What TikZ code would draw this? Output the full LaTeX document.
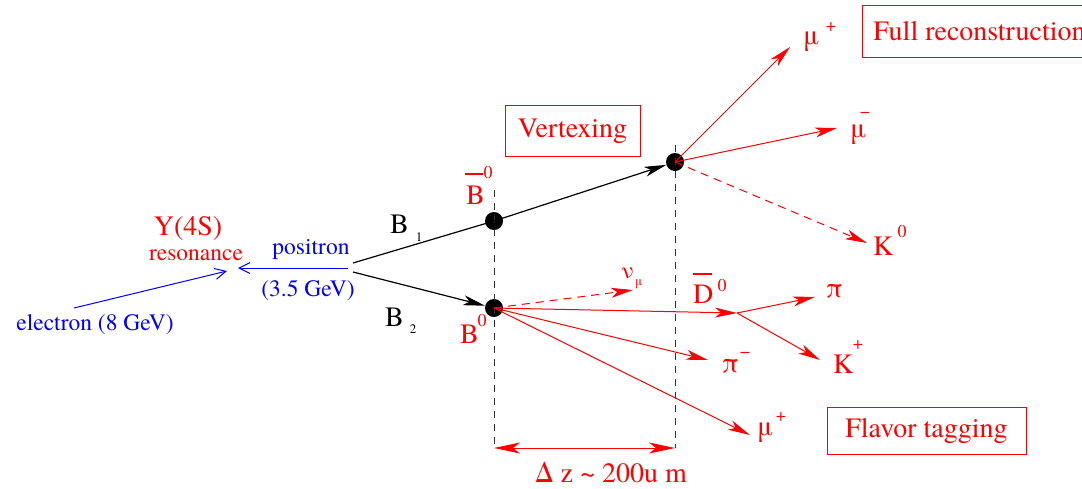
\documentclass[tikz,border=0pt]{standalone}
\usepackage{fontspec}
\setmainfont{texgyretermes}[Extension=.otf, UprightFont=*-regular, BoldFont=*-bold, ItalicFont=*-italic, BoldItalicFont=*-bolditalic]
\newfontfamily\tms{texgyretermes}[Extension=.otf, UprightFont=*-regular, BoldFont=*-bold, ItalicFont=*-italic, BoldItalicFont=*-bolditalic]
\usetikzlibrary{arrows.meta}
\begin{document}
\begin{tikzpicture}[x=1pt,y=-1pt,
  big/.style={inner sep=0pt, anchor=base west, font=\tms\fontsize{28}{30}\selectfont},
  mid/.style={inner sep=0pt, anchor=center, font=\tms\fontsize{23.5}{26}\selectfont},
  supr/.style={inner sep=0pt, anchor=center, font=\tms\fontsize{18}{20}\selectfont},
  subs/.style={inner sep=0pt, anchor=center, font=\tms\fontsize{13}{14}\selectfont},
  dot/.style={circle, fill=black, inner sep=0pt, minimum size=18pt},
  redbox/.style={draw=red, line width=0.8pt, text=red, inner sep=0pt, font=\tms\fontsize{28}{30}\selectfont},
  tipr/.style={-{Stealth[length=22pt,width=10pt,inset=6pt]}},
  tipb/.style={-{Stealth[length=22pt,width=10pt,inset=6pt]}},
  openarr/.style={-{Straight Barb[length=11pt,width=11pt]}},
  redl/.style={red, line width=1pt},
  blackl/.style={black, line width=1.2pt},
  bluel/.style={blue, line width=1pt},
  guide/.style={black!80, line width=1pt, dash pattern=on 7pt off 6pt},
]
\useasboundingbox (0,0) rectangle (1082,488);

% boxes
\node[redbox, minimum width=135pt, minimum height=51pt] (vtx) at (572.5,131) {Vertexing};
\node[redbox, anchor=west, minimum height=52pt, inner xsep=11pt] (full) at (862,31) {Full reconstruction};
\node[redbox, minimum width=199pt, minimum height=47pt] (flav) at (926.5,430.5) {Flavor tagging};

% vertices
\node[dot] (v1) at (494,221) {};
\node[dot] (v2) at (675,162) {};
\node[dot] (v3) at (494,308) {};

% guides
\coordinate (g1t) at (494,190);
\coordinate (g1b) at (494,448);
\coordinate (g2t) at (675,145);
\coordinate (g2b) at (675,448);
\draw[guide] (g1t) -- (g1b);
\draw[guide] (g2t) -- (g2b);

% delta z arrow
\draw[redl, {Stealth[length=26pt,width=11pt,inset=7pt]}-{Stealth[length=26pt,width=11pt,inset=7pt]}] (g1b) -- (g2b);
\node[big, text=red] (dz) at (535,482) {Δ z \textasciitilde{} 200u m};

% B lines
\coordinate (o1) at (353,263);
\coordinate (o2) at (353,272);
\draw[blackl, tipb] (o1) -- (v1.center) -- (v2);
\draw[blackl, tipb] (o2) -- (v3);

% beams
\coordinate (pos0) at (348,268);
\coordinate (pos1) at (238,268);
\coordinate (ele0) at (74,308);
\coordinate (ele1) at (227,271);
\draw[bluel, openarr] (pos0) -- (pos1);
\draw[bluel, openarr] (ele0) -- (ele1);
\node[mid, text=blue] (lpos) at (311,250) {positron};
\node[mid, text=blue] (lgev) at (308,290) {(3.5 GeV)};
\node[mid, text=blue] (lele) at (95,325) {electron (8 GeV)};
\node[inner sep=0pt, anchor=center, text=red, font=\tms\fontsize{28}{30}\selectfont] (ly) at (188,229) {Y(4S)};
\node[mid, text=red] (lres) at (196,255) {resonance};

% upper decays
\coordinate (mu1) at (790,47);
\coordinate (mu2) at (837,128);
\coordinate (k0) at (867,243);
\draw[redl, tipr] (v2.center) -- (mu1);
\draw[redl, tipr] (v2.center) -- (mu2);
\draw[redl, tipr, dash pattern=on 8pt off 6pt] (v2.center) -- (k0);

% lower decays
\coordinate (nu) at (633,290);
\coordinate (dv) at (737,313);
\coordinate (pi0) at (815,297);
\coordinate (kp) at (820,360);
\coordinate (pim) at (708,360);
\coordinate (mu3) at (750,435);
\draw[redl, tipr, dash pattern=on 8pt off 6pt] (v3.center) -- (nu);
\draw[redl, tipr] (v3.center) -- (dv);
\draw[redl, tipr] (dv) -- (pi0);
\draw[redl, tipr] (dv) -- (kp);
\draw[redl, tipr] (v3.center) -- (pim);
\draw[redl, tipr] (v3.center) -- (mu3);

% labels: B1, B2
\node[big] (lb1) at (390,233) {B};
\node[subs] (lb1s) at (419,237) {1};
\node[big] (lb2) at (385,326) {B};
\node[subs] (lb2s) at (413,329) {2};

% Bbar0
\node[big, text=red] (lbb) at (466,204) {B};
\coordinate (bb0) at (465,174);
\coordinate (bb1) at (483,174);
\draw[red, line width=1.3pt] (bb0) -- (bb1);
\node[supr, text=red] (lbb0) at (488,173) {0};
% B0
\node[big, text=red] (lb0) at (460,343) {B};
\node[supr, text=red] (lb00) at (482,321) {0};

% mu+ top
\node[big, text=red] (lmu1) at (803,44) {μ};
\node[supr, text=red] (lmu1s) at (831,27) {+};
% mu-
\node[big, text=red, text height=14pt] (lmu2) at (850,137) {μ};
\node[supr, text=red] (lmu2s) at (865,115) {−};
% K0
\node[big, text=red] (lk0) at (873,255) {K};
\node[supr, text=red] (lk0s) at (902,232) {0};
% nu_mu
\node[inner sep=0pt, anchor=base west, text=red, font=\tms\fontsize{23}{26}\selectfont] (lnu) at (621,278) {ν};
\node[subs, text=red] (lnus) at (639,284) {μ};
% Dbar0
\node[big, text=red] (ld) at (693,303) {D};
\coordinate (db0) at (693,274);
\coordinate (db1) at (712,274);
\draw[red, line width=1.3pt] (db0) -- (db1);
\node[supr, text=red] (ld0) at (722,286) {0};
% pi
\node[big, text=red] (lpi) at (826,297) {π};
% K+
\node[big, text=red] (lkp) at (833,373) {K};
\node[supr, text=red] (lkps) at (858,345) {+};
% pi-
\node[big, text=red] (lpim) at (722,372) {π};
\node[supr, text=red] (lpims) at (745,355) {−};
% mu+ bottom
\node[big, text=red] (lmu3) at (757,435) {μ};
\node[supr, text=red] (lmu3s) at (781,417) {+};
\end{tikzpicture}
\end{document}
